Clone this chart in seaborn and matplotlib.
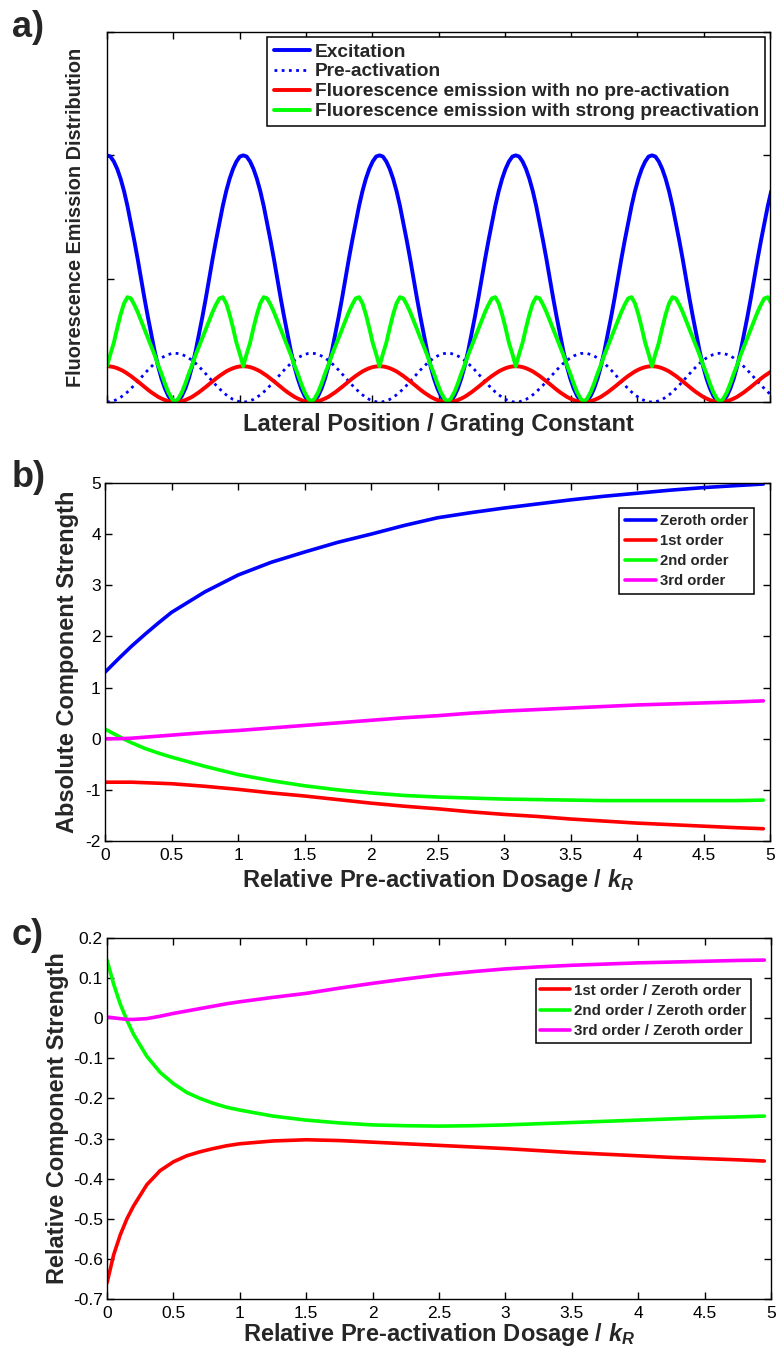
import numpy as np
import matplotlib
matplotlib.use("Agg")
import matplotlib.pyplot as plt
import seaborn as sns
from matplotlib.ticker import FuncFormatter, NullFormatter

# ---------------- data: panel a (sampled every 1/40 grating constant) ----------------
excitation = [
    2.00, 1.99, 1.95, 1.89, 1.81, 1.71, 1.59, 1.45, 1.31, 1.16, 1.00, 0.84, 0.69, 0.55, 0.41, 0.29, 0.19, 0.11, 0.05, 0.01,
    0.00, 0.01, 0.05, 0.11, 0.19, 0.29, 0.41, 0.55, 0.69, 0.84, 1.00, 1.16, 1.31, 1.45, 1.59, 1.71, 1.81, 1.89, 1.95, 1.99,
    2.00, 1.99, 1.95, 1.89, 1.81, 1.71, 1.59, 1.45, 1.31, 1.16, 1.00, 0.84, 0.69, 0.55, 0.41, 0.29, 0.19, 0.11, 0.05, 0.01,
    0.00, 0.01, 0.05, 0.11, 0.19, 0.29, 0.41, 0.55, 0.69, 0.84, 1.00, 1.16, 1.31, 1.45, 1.59, 1.71, 1.81, 1.89, 1.95, 1.99,
    2.00, 1.99, 1.95, 1.89, 1.81, 1.71, 1.59, 1.45, 1.31, 1.16, 1.00, 0.84, 0.69, 0.55, 0.41, 0.29, 0.19, 0.11, 0.05, 0.01,
    0.00, 0.01, 0.05, 0.11, 0.19, 0.29, 0.41, 0.55, 0.69, 0.84, 1.00, 1.16, 1.31, 1.45, 1.59, 1.71, 1.81, 1.89, 1.95, 1.99,
    2.00, 1.99, 1.95, 1.89, 1.81, 1.71, 1.59, 1.45, 1.31, 1.16, 1.00, 0.84, 0.69, 0.55, 0.41, 0.29, 0.19, 0.11, 0.05, 0.01,
    0.00, 0.01, 0.05, 0.11, 0.19, 0.29, 0.41, 0.55, 0.69, 0.84, 1.00, 1.16, 1.31, 1.45, 1.59, 1.71, 1.81, 1.89, 1.95, 1.99,
    2.00, 1.99, 1.95, 1.89, 1.81, 1.71, 1.59, 1.45, 1.31, 1.16, 1.00, 0.84, 0.69, 0.55, 0.41, 0.29, 0.19, 0.11, 0.05, 0.01,
    0.00, 0.01, 0.05, 0.11, 0.19, 0.29, 0.41, 0.55, 0.69, 0.84, 1.00, 1.16, 1.31, 1.45, 1.59, 1.71,
]
pre_activation = [
    0.000, 0.002, 0.010, 0.021, 0.038, 0.058, 0.081, 0.108, 0.136, 0.167, 0.198, 0.228, 0.259, 0.287, 0.314, 0.337, 0.357, 0.373, 0.385, 0.393,
    0.395, 0.393, 0.385, 0.373, 0.357, 0.337, 0.314, 0.287, 0.259, 0.228, 0.198, 0.167, 0.136, 0.108, 0.081, 0.058, 0.038, 0.021, 0.010, 0.002,
    0.000, 0.002, 0.010, 0.021, 0.038, 0.058, 0.081, 0.108, 0.136, 0.167, 0.198, 0.228, 0.259, 0.287, 0.314, 0.337, 0.357, 0.373, 0.385, 0.393,
    0.395, 0.393, 0.385, 0.373, 0.357, 0.337, 0.314, 0.287, 0.259, 0.228, 0.198, 0.167, 0.136, 0.108, 0.081, 0.058, 0.038, 0.021, 0.010, 0.002,
    0.000, 0.002, 0.010, 0.021, 0.038, 0.058, 0.081, 0.108, 0.136, 0.167, 0.198, 0.228, 0.259, 0.287, 0.314, 0.337, 0.357, 0.373, 0.385, 0.393,
    0.395, 0.393, 0.385, 0.373, 0.357, 0.337, 0.314, 0.287, 0.259, 0.228, 0.198, 0.167, 0.136, 0.108, 0.081, 0.058, 0.038, 0.021, 0.010, 0.002,
    0.000, 0.002, 0.010, 0.021, 0.038, 0.058, 0.081, 0.108, 0.136, 0.167, 0.198, 0.228, 0.259, 0.287, 0.314, 0.337, 0.357, 0.373, 0.385, 0.393,
    0.395, 0.393, 0.385, 0.373, 0.357, 0.337, 0.314, 0.287, 0.259, 0.228, 0.198, 0.167, 0.136, 0.108, 0.081, 0.058, 0.038, 0.021, 0.010, 0.002,
    0.000, 0.002, 0.010, 0.021, 0.038, 0.058, 0.081, 0.108, 0.136, 0.167, 0.198, 0.228, 0.259, 0.287, 0.314, 0.337, 0.357, 0.373, 0.385, 0.393,
    0.395, 0.393, 0.385, 0.373, 0.357, 0.337, 0.314, 0.287, 0.259, 0.228, 0.198, 0.167, 0.136, 0.108, 0.081, 0.058,
]
fluor_no_pre = [
    0.290, 0.288, 0.283, 0.274, 0.262, 0.248, 0.230, 0.211, 0.190, 0.168, 0.145, 0.122, 0.100, 0.079, 0.060, 0.042, 0.028, 0.016, 0.007, 0.002,
    0.000, 0.002, 0.007, 0.016, 0.028, 0.042, 0.060, 0.079, 0.100, 0.122, 0.145, 0.168, 0.190, 0.211, 0.230, 0.248, 0.262, 0.274, 0.283, 0.288,
    0.290, 0.288, 0.283, 0.274, 0.262, 0.248, 0.230, 0.211, 0.190, 0.168, 0.145, 0.122, 0.100, 0.079, 0.060, 0.042, 0.028, 0.016, 0.007, 0.002,
    0.000, 0.002, 0.007, 0.016, 0.028, 0.042, 0.060, 0.079, 0.100, 0.122, 0.145, 0.168, 0.190, 0.211, 0.230, 0.248, 0.262, 0.274, 0.283, 0.288,
    0.290, 0.288, 0.283, 0.274, 0.262, 0.248, 0.230, 0.211, 0.190, 0.168, 0.145, 0.122, 0.100, 0.079, 0.060, 0.042, 0.028, 0.016, 0.007, 0.002,
    0.000, 0.002, 0.007, 0.016, 0.028, 0.042, 0.060, 0.079, 0.100, 0.122, 0.145, 0.168, 0.190, 0.211, 0.230, 0.248, 0.262, 0.274, 0.283, 0.288,
    0.290, 0.288, 0.283, 0.274, 0.262, 0.248, 0.230, 0.211, 0.190, 0.168, 0.145, 0.122, 0.100, 0.079, 0.060, 0.042, 0.028, 0.016, 0.007, 0.002,
    0.000, 0.002, 0.007, 0.016, 0.028, 0.042, 0.060, 0.079, 0.100, 0.122, 0.145, 0.168, 0.190, 0.211, 0.230, 0.248, 0.262, 0.274, 0.283, 0.288,
    0.290, 0.288, 0.283, 0.274, 0.262, 0.248, 0.230, 0.211, 0.190, 0.168, 0.145, 0.122, 0.100, 0.079, 0.060, 0.042, 0.028, 0.016, 0.007, 0.002,
    0.000, 0.002, 0.007, 0.016, 0.028, 0.042, 0.060, 0.079, 0.100, 0.122, 0.145, 0.168, 0.190, 0.211, 0.230, 0.248,
]
fluor_strong_pre = [
    0.29, 0.39, 0.48, 0.60, 0.71, 0.80, 0.85, 0.84, 0.79, 0.73, 0.66, 0.59, 0.52, 0.45, 0.38, 0.30, 0.23, 0.15, 0.08, 0.03,
    0.00, 0.03, 0.08, 0.15, 0.23, 0.30, 0.38, 0.45, 0.52, 0.59, 0.66, 0.73, 0.79, 0.84, 0.85, 0.80, 0.71, 0.60, 0.48, 0.39,
    0.29, 0.39, 0.48, 0.60, 0.71, 0.80, 0.85, 0.84, 0.79, 0.73, 0.66, 0.59, 0.52, 0.45, 0.38, 0.30, 0.23, 0.15, 0.08, 0.03,
    0.00, 0.03, 0.08, 0.15, 0.23, 0.30, 0.38, 0.45, 0.52, 0.59, 0.66, 0.73, 0.79, 0.84, 0.85, 0.80, 0.71, 0.60, 0.48, 0.39,
    0.29, 0.39, 0.48, 0.60, 0.71, 0.80, 0.85, 0.84, 0.79, 0.73, 0.66, 0.59, 0.52, 0.45, 0.38, 0.30, 0.23, 0.15, 0.08, 0.03,
    0.00, 0.03, 0.08, 0.15, 0.23, 0.30, 0.38, 0.45, 0.52, 0.59, 0.66, 0.73, 0.79, 0.84, 0.85, 0.80, 0.71, 0.60, 0.48, 0.39,
    0.29, 0.39, 0.48, 0.60, 0.71, 0.80, 0.85, 0.84, 0.79, 0.73, 0.66, 0.59, 0.52, 0.45, 0.38, 0.30, 0.23, 0.15, 0.08, 0.03,
    0.00, 0.03, 0.08, 0.15, 0.23, 0.30, 0.38, 0.45, 0.52, 0.59, 0.66, 0.73, 0.79, 0.84, 0.85, 0.80, 0.71, 0.60, 0.48, 0.39,
    0.29, 0.39, 0.48, 0.60, 0.71, 0.80, 0.85, 0.84, 0.79, 0.73, 0.66, 0.59, 0.52, 0.45, 0.38, 0.30, 0.23, 0.15, 0.08, 0.03,
    0.00, 0.03, 0.08, 0.15, 0.23, 0.30, 0.38, 0.45, 0.52, 0.59, 0.66, 0.73, 0.79, 0.84, 0.85, 0.80,
]
lateral_pos = np.arange(len(excitation)) / 40.0   # in grating constants
a_labels = ["Excitation", "Pre-activation",
            "Fluorescence emission with no pre-activation",
            "Fluorescence emission with strong preactivation"]

# ---------------- data: panel b ----------------
dose_b = [0, 0.1, 0.2, 0.3, 0.4, 0.5, 0.75, 1.0, 1.25, 1.5, 1.75, 2.0, 2.25, 2.5,
          2.75, 3.0, 3.25, 3.5, 3.75, 4.0, 4.25, 4.5, 4.75, 4.95]
zeroth = [1.30, 1.56, 1.81, 2.04, 2.26, 2.47, 2.87, 3.20, 3.45, 3.65, 3.84, 4.00, 4.17, 4.32,
          4.42, 4.51, 4.59, 4.67, 4.74, 4.80, 4.86, 4.91, 4.95, 4.98]
first = [-0.85, -0.85, -0.85, -0.86, -0.87, -0.88, -0.93, -0.99, -1.06, -1.12, -1.19, -1.26, -1.32, -1.37,
         -1.43, -1.48, -1.52, -1.57, -1.61, -1.65, -1.68, -1.71, -1.74, -1.76]
second = [0.19, 0.05, -0.08, -0.19, -0.28, -0.36, -0.54, -0.70, -0.82, -0.92, -1.00, -1.06, -1.11, -1.14,
          -1.16, -1.18, -1.19, -1.20, -1.21, -1.21, -1.21, -1.21, -1.21, -1.20]
third = [0.00, 0.00, 0.01, 0.03, 0.05, 0.07, 0.12, 0.16, 0.21, 0.26, 0.31, 0.36, 0.41, 0.45,
         0.50, 0.54, 0.57, 0.60, 0.63, 0.66, 0.68, 0.70, 0.72, 0.74]
b_labels = ["Zeroth order", "1st order", "2nd order", "3rd order"]

# ---------------- data: panel c ----------------
dose_c = [0, 0.05, 0.1, 0.15, 0.2, 0.3, 0.4, 0.5, 0.6, 0.7, 0.8, 0.9, 1.0, 1.25, 1.5, 1.75, 2.0,
          2.25, 2.5, 2.75, 3.0, 3.25, 3.5, 3.75, 4.0, 4.25, 4.5, 4.75, 4.95]
rel_first = [-0.66, -0.59, -0.54, -0.50, -0.468, -0.415, -0.38, -0.358, -0.343, -0.333, -0.325, -0.318,
             -0.313, -0.306, -0.303, -0.305, -0.309, -0.313, -0.317, -0.321, -0.325, -0.330, -0.335,
             -0.339, -0.343, -0.347, -0.350, -0.353, -0.356]
rel_second = [0.145, 0.085, 0.035, -0.005, -0.04, -0.095, -0.135, -0.163, -0.185, -0.20, -0.212, -0.222,
              -0.229, -0.244, -0.254, -0.261, -0.266, -0.268, -0.269, -0.268, -0.266, -0.263, -0.26,
              -0.257, -0.254, -0.251, -0.248, -0.246, -0.244]
rel_third = [0.003, 0.001, -0.001, -0.003, -0.003, -0.001, 0.005, 0.012, 0.018, 0.024, 0.030, 0.036,
             0.041, 0.052, 0.062, 0.075, 0.087, 0.098, 0.108, 0.116, 0.123, 0.128, 0.132, 0.135,
             0.138, 0.140, 0.142, 0.144, 0.145]
c_labels = ["1st order / Zeroth order", "2nd order / Zeroth order", "3rd order / Zeroth order"]

# ---------------- style ----------------
sns.set_style("white")
plt.rcParams["font.family"] = ["Liberation Sans", "DejaVu Sans"]
plt.rcParams["axes.unicode_minus"] = False
plt.rcParams["mathtext.fontset"] = "custom"
plt.rcParams["mathtext.it"] = "Liberation Sans:italic:bold"
plt.rcParams["mathtext.rm"] = "Liberation Sans:bold"
plt.rcParams["mathtext.bf"] = "Liberation Sans:bold"

BLUE, RED, GREEN, MAG = "#0000FF", "#FF0000", "#00FF00", "#FF00FF"
W, H = 777, 1349
fig = plt.figure(figsize=(W / 100, H / 100), dpi=100)


def add_axes(left, top, right, bottom):
    return fig.add_axes([left / W, 1 - bottom / H, (right - left) / W, (bottom - top) / H])


def style(ax, labelsize=12.5):
    for s in ax.spines.values():
        s.set_visible(True)
        s.set_color("black")
        s.set_linewidth(1.0)
    ax.tick_params(direction="in", top=True, right=True, bottom=True, left=True,
                   length=5, width=1, colors="black", labelsize=labelsize)
    ax.tick_params(axis="x", pad=5)
    ax.tick_params(axis="y", pad=3)


def legend(ax, anchor, size, handlelength, labelspacing, borderpad=0.4):
    leg = ax.legend(loc="upper right", bbox_to_anchor=anchor, borderaxespad=0,
                    prop={"weight": "bold", "size": size}, frameon=True, fancybox=False,
                    framealpha=1, edgecolor="black", handlelength=handlelength,
                    handletextpad=0.25, labelspacing=labelspacing, borderpad=borderpad)
    leg.get_frame().set_linewidth(1.1)
    return leg


fmt = FuncFormatter(lambda v, _: f"{v:g}")

# ---------------- panel a ----------------
ax_a = add_axes(107, 32, 770, 402)
sns.lineplot(x=lateral_pos, y=excitation, color=BLUE, lw=2.8, ax=ax_a, label=a_labels[0])
sns.lineplot(x=lateral_pos, y=pre_activation, color=BLUE, lw=2.0, linestyle=(0, (1.0, 1.6)),
             ax=ax_a, label=a_labels[1])
sns.lineplot(x=lateral_pos, y=fluor_no_pre, color=RED, lw=2.8, ax=ax_a, label=a_labels[2])
sns.lineplot(x=lateral_pos, y=fluor_strong_pre, color=GREEN, lw=2.8, ax=ax_a, label=a_labels[3])
x_end = 4.866
ax_a.set_xlim(0, x_end)
ax_a.set_ylim(0, 3)
ax_a.set_xticks(np.linspace(0, x_end, 11))
ax_a.set_yticks([0, 1, 2, 3])
ax_a.xaxis.set_major_formatter(NullFormatter())
ax_a.yaxis.set_major_formatter(NullFormatter())
style(ax_a)
ax_a.set_xlabel("Lateral Position / Grating Constant", fontsize=17, weight="bold", va="center")
ax_a.xaxis.set_label_coords(0.5, -0.062)
ax_a.set_ylabel("Fluorescence Emission Distribution", fontsize=14.3, weight="bold", va="center")
ax_a.yaxis.set_label_coords(-0.048, 0.5)
legend(ax_a, (0.9925, 0.9865), 13.8, 1.9, 0.13, 0.32)

# ---------------- panel b ----------------
ax_b = add_axes(105, 483, 770, 841)
sns.lineplot(x=dose_b, y=zeroth, color=BLUE, lw=2.6, ax=ax_b, label=b_labels[0])
sns.lineplot(x=dose_b, y=first, color=RED, lw=2.6, ax=ax_b, label=b_labels[1])
sns.lineplot(x=dose_b, y=second, color=GREEN, lw=2.6, ax=ax_b, label=b_labels[2])
sns.lineplot(x=dose_b, y=third, color=MAG, lw=2.6, ax=ax_b, label=b_labels[3])
ax_b.set_xlim(0, 5)
ax_b.set_ylim(-2, 5)
ax_b.set_xticks(np.arange(0, 5.01, 0.5))
ax_b.set_yticks(np.arange(-2, 6, 1))
ax_b.xaxis.set_major_formatter(fmt)
ax_b.yaxis.set_major_formatter(fmt)
style(ax_b)
ax_b.set_xlabel(r"Relative Pre-activation Dosage / $k_R$", fontsize=17, weight="bold", va="center")
ax_b.xaxis.set_label_coords(0.5, -0.109)
ax_b.set_ylabel("Absolute Component Strength", fontsize=17, weight="bold", va="center")
ax_b.yaxis.set_label_coords(-0.057, 0.5)
legend(ax_b, (0.976, 0.930), 10.7, 2.1, 0.4, 0.4)

# ---------------- panel c ----------------
ax_c = add_axes(107, 938, 771, 1299)
sns.lineplot(x=dose_c, y=rel_first, color=RED, lw=2.6, ax=ax_c, label=c_labels[0])
sns.lineplot(x=dose_c, y=rel_second, color=GREEN, lw=2.6, ax=ax_c, label=c_labels[1])
sns.lineplot(x=dose_c, y=rel_third, color=MAG, lw=2.6, ax=ax_c, label=c_labels[2])
ax_c.set_xlim(0, 5)
ax_c.set_ylim(-0.7, 0.2)
ax_c.set_xticks(np.arange(0, 5.01, 0.5))
ax_c.set_yticks([-0.7, -0.6, -0.5, -0.4, -0.3, -0.2, -0.1, 0.0, 0.1, 0.2])
ax_c.xaxis.set_major_formatter(fmt)
ax_c.yaxis.set_major_formatter(FuncFormatter(lambda v, _: "0" if abs(v) < 1e-9 else f"{v:.1f}"))
style(ax_c)
ax_c.set_xlabel(r"Relative Pre-activation Dosage / $k_R$", fontsize=17, weight="bold", va="center")
ax_c.xaxis.set_label_coords(0.5, -0.0997)
ax_c.set_ylabel("Relative Component Strength", fontsize=17, weight="bold", va="center")
ax_c.yaxis.set_label_coords(-0.075, 0.5)
legend(ax_c, (0.970, 0.886), 10.9, 2.0, 0.41, 0.3)

# ---------------- panel letters ----------------
for txt, y in [("a)", 37), ("b)", 487), ("c)", 945)]:
    fig.text(12 / W, 1 - y / H, txt, fontsize=26, weight="bold", ha="left", va="baseline")

fig.savefig("out.png", dpi=100)
